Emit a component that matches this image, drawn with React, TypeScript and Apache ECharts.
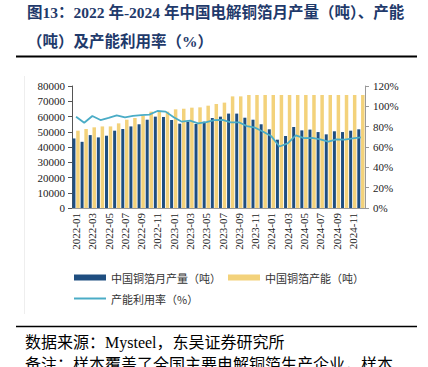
import React, { useEffect, useRef } from "react";
import * as echarts from "echarts";

const categories = [
  "2022-01","2022-02","2022-03","2022-04","2022-05","2022-06","2022-07","2022-08","2022-09","2022-10","2022-11","2022-12",
  "2023-01","2023-02","2023-03","2023-04","2023-05","2023-06","2023-07","2023-08","2023-09","2023-10","2023-11","2023-12",
  "2024-01","2024-02","2024-03","2024-04","2024-05","2024-06","2024-07","2024-08","2024-09","2024-10","2024-11","2024-12",
];

const production = [
  45600, 43400, 47800, 46300, 47400, 50700, 51800, 53500, 54900, 57900, 59900, 59700,
  57700, 55300, 56600, 55100, 56600, 59000, 59900, 61900, 61900, 59200, 57900, 54900,
  51600, 44800, 47200, 53100, 50900, 51400, 49800, 48300, 50300, 49800, 50700, 51600,
];

const capacity = [
  50700, 51800, 52900, 53500, 53500, 55500, 57900, 59000, 60500, 63200, 63600, 63200,
  64700, 65100, 65800, 66000, 67100, 68200, 69100, 73200, 73200, 74100, 74100, 74100,
  74100, 74100, 74100, 74100, 74100, 74100, 74100, 74100, 74100, 74100, 74100, 74100,
];

const utilization = [
  89.8, 83.8, 90.5, 86.5, 88.6, 91.1, 89.2, 90.6, 91.3, 91.8, 95.4, 94.8,
  89.3, 84.9, 85.9, 83.3, 84.5, 86.4, 86.6, 84.3, 84.3, 80.5, 79.0, 75.0,
  70.5, 60.5, 63.5, 71.5, 68.7, 69.0, 67.5, 65.2, 67.5, 67.2, 68.4, 69.5,
];

const seriesNames = ["中国铜箔月产量（吨）", "中国铜箔产能（吨）", "产能利用率（%）"];
const titleLines = ["图13：2022 年-2024 年中国电解铜箔月产量（吨）、产能", "（吨）及产能利用率（%）"];
const footerLines = ["数据来源：Mysteel，东吴证券研究所", "备注：样本覆盖了全国主要电解铜箔生产企业，样本"];

const SERIF = '"Liberation Serif", "Noto Sans CJK SC", serif';
const LATIN_SERIF = "Liberation Serif";
const CJK = '"Noto Sans CJK SC", sans-serif';

export default function App() {
  const ref = useRef<HTMLDivElement>(null);
  useEffect(() => {
    document.body.style.margin = "0";
    const chart = echarts.init(ref.current!, null, { renderer: "svg" });
    chart.setOption({
      animation: false,
      backgroundColor: "#fff",
      grid: { left: 72, top: 86, width: 293, height: 122, containLabel: false },
      legend: [
        {
          data: [seriesNames[0], seriesNames[1]],
          left: 69,
          top: 267,
          itemWidth: 32,
          itemHeight: 6,
          itemGap: 7,
          icon: "rect",
          textStyle: { fontSize: 11, color: "#333", fontFamily: CJK },
        },
        {
          data: [seriesNames[2]],
          left: 69,
          top: 288,
          itemWidth: 32,
          itemHeight: 2,
          icon: "rect",
          textStyle: { fontSize: 11, color: "#333", fontFamily: CJK },
        },
      ],
      xAxis: {
        type: "category",
        data: categories,
        axisLine: { lineStyle: { color: "#999" } },
        axisTick: { interval: 1, length: 4, lineStyle: { color: "#555" } },
        axisLabel: { interval: 1, rotate: 90, fontSize: 11, color: "#222", fontFamily: LATIN_SERIF, margin: 5 },
      },
      yAxis: [
        {
          type: "value",
          min: 0,
          max: 80000,
          interval: 10000,
          axisLine: { show: true, lineStyle: { color: "#555" } },
          axisTick: { show: true, length: 4, lineStyle: { color: "#555" } },
          splitLine: { show: false },
          axisLabel: {
            fontSize: 11,
            color: "#222",
            fontFamily: LATIN_SERIF,
            margin: 7,
            formatter: (v: number) => String(v),
          },
        },
        {
          type: "value",
          min: 0,
          max: 120,
          interval: 20,
          axisLine: { show: true, lineStyle: { color: "#999" } },
          axisTick: { show: true, length: 4, lineStyle: { color: "#999" } },
          splitLine: { show: false },
          axisLabel: { fontSize: 11, color: "#222", fontFamily: LATIN_SERIF, margin: 8, formatter: "{value}%" },
        },
      ],
      series: [
        {
          name: seriesNames[0],
          type: "bar",
          data: production,
          barWidth: 3,
          barGap: "25%",
          itemStyle: { color: "#1F4E80" },
        },
        {
          name: seriesNames[1],
          type: "bar",
          data: capacity,
          barWidth: 3.5,
          itemStyle: { color: "#F3D27B" },
        },
        {
          name: seriesNames[2],
          type: "line",
          yAxisIndex: 1,
          data: utilization,
          symbol: "none",
          lineStyle: { color: "#4AACC6", width: 1.8 },
          itemStyle: { color: "#4AACC6" },
        },
      ],
      graphic: [
        {
          type: "text",
          left: 27,
          top: 5,
          style: { text: titleLines[0], font: `bold 15.5px ${SERIF}`, fill: "#1F3A6B" },
        },
        {
          type: "text",
          left: 27,
          top: 34,
          style: { text: titleLines[1], font: `bold 15.5px ${SERIF}`, fill: "#1F3A6B" },
        },
        {
          type: "line",
          shape: { x1: 16, y1: 56.5, x2: 417, y2: 56.5 },
          style: { stroke: "#000", lineWidth: 2 },
        },
        {
          type: "line",
          shape: { x1: 24.5, y1: 76, x2: 24.5, y2: 314 },
          style: { stroke: "#eeeeee", lineWidth: 1 },
        },
        {
          type: "line",
          shape: { x1: 16, y1: 326.5, x2: 417, y2: 326.5 },
          style: { stroke: "#000", lineWidth: 1.6 },
        },
        {
          type: "text",
          left: 25,
          top: 334,
          style: { text: footerLines[0], font: `16px ${SERIF}`, fill: "#000" },
        },
        {
          type: "text",
          left: 25,
          top: 356,
          style: { text: footerLines[1], font: `16px ${SERIF}`, fill: "#000" },
        },
      ],
    });
    return () => chart.dispose();
  }, []);
  return (
    <div
      ref={ref}
      style={{ position: "fixed", left: 0, top: 0, width: 428, height: 367, background: "#fff" }}
    />
  );
}
